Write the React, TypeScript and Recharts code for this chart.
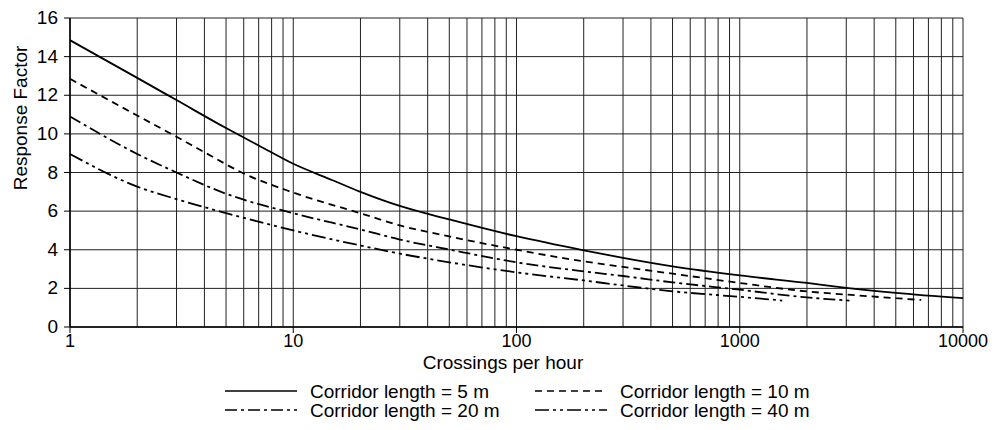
import React from 'react';
import { LineChart, Line, XAxis, YAxis, CartesianGrid, ReferenceLine } from 'recharts';

// Response factor vs crossings per hour, log x axis, 4 corridor lengths

const X_5M = [1, 2, 3, 5, 7, 10, 15, 20, 30, 50, 100, 200, 300, 500, 1000, 2000, 3000, 5000, 10000];
const Y_5M = [14.85, 12.9, 11.75, 10.3, 9.4, 8.45, 7.6, 7.0, 6.27, 5.57, 4.7, 3.97, 3.58, 3.14, 2.67, 2.28, 2.03, 1.77, 1.49];

const X_10M = [1, 2, 3, 4, 6, 10, 20, 30, 50, 100, 200, 300, 500, 1000, 2000, 3000, 5000, 6500];
const Y_10M = [12.85, 10.95, 9.85, 9.05, 7.95, 6.96, 5.89, 5.26, 4.69, 4.0, 3.4, 3.11, 2.76, 2.28, 1.84, 1.68, 1.49, 1.4];

const X_20M = [1, 2, 3, 5, 10, 20, 30, 50, 100, 200, 300, 500, 1000, 2000, 3100];
const Y_20M = [10.9, 8.96, 8.0, 6.9, 5.89, 5.05, 4.53, 4.01, 3.35, 2.88, 2.64, 2.31, 1.93, 1.53, 1.37];

const X_40M = [1, 2, 3, 5, 10, 20, 30, 50, 100, 200, 300, 500, 1000, 1550];
const Y_40M = [8.96, 7.27, 6.62, 5.9, 5.0, 4.22, 3.8, 3.35, 2.83, 2.41, 2.15, 1.85, 1.56, 1.37];

const X_TICKS = [1, 10, 100, 1000, 10000];
const Y_TICKS = [0, 2, 4, 6, 8, 10, 12, 14, 16];
const MINOR_X = [1, 10, 100, 1000].flatMap((d) => [2, 3, 4, 5, 6, 7, 8, 9].map((m) => m * d));

const SERIES_NAMES = ['Corridor length = 5 m', 'Corridor length = 10 m', 'Corridor length = 20 m', 'Corridor length = 40 m'];

const FONT = '"Liberation Sans", Arial, sans-serif';
const DASHES = ['', '7 5', '12 4 3 4', '14 4 3 4 3 4'];

const toPoints = (xs: number[], ys: number[]) => xs.map((x, i) => ({ x, y: ys[i] }));

const series = [
  toPoints(X_5M, Y_5M),
  toPoints(X_10M, Y_10M),
  toPoints(X_20M, Y_20M),
  toPoints(X_40M, Y_40M),
];

const YTick = ({ x, y, payload }: any) => (
  <text x={x - 4} y={y + 6} textAnchor="end" fontSize={19} fontFamily={FONT} fill="#000">
    {payload.value}
  </text>
);

const XTick = ({ x, y, payload }: any) => (
  <text x={x} y={y + 12} textAnchor="middle" fontSize={18} fontFamily={FONT} fill="#000">
    {payload.value}
  </text>
);

const XLabel = () => (
  <text x={495} y={361} textAnchor="middle" fontSize={19} fontFamily={FONT} fill="#000">
    Crossings per hour
  </text>
);

const YLabel = () => (
  <text x={0} y={0} transform="translate(19,110) rotate(-90)" textAnchor="middle" fontSize={19} fontFamily={FONT} fill="#000">
    Response Factor
  </text>
);

function LegendBox() {
  const rows = [
    { lx: 217, ly: 383 },
    { lx: 527, ly: 383 },
    { lx: 217, ly: 402 },
    { lx: 527, ly: 402 },
  ];
  return (
    <svg width={984} height={422} style={{ position: 'absolute', left: 0, top: 0, pointerEvents: 'none' }}>
      {rows.map((r, i) => (
        <g key={i}>
          <line x1={r.lx} x2={r.lx + 72} y1={r.ly} y2={r.ly} stroke="#000" strokeWidth={1.6} strokeDasharray={DASHES[i] || undefined} />
          <text x={r.lx + 85} y={r.ly + 7} fontSize={19} fontFamily={FONT} fill="#000">
            {SERIES_NAMES[i]}
          </text>
        </g>
      ))}
    </svg>
  );
}

export default function App() {
  return (
    <div style={{ position: 'relative', width: 984, height: 422 }}>
      <LineChart width={984} height={414} margin={{ top: 10, right: 29, left: 0, bottom: 65 }}>
        <CartesianGrid vertical horizontal stroke="#222" strokeWidth={1} />
        {MINOR_X.map((v) => (
          <ReferenceLine key={v} x={v} stroke="#222" strokeWidth={1} />
        ))}
        <XAxis
          type="number"
          dataKey="x"
          scale="log"
          domain={[1, 10000]}
          ticks={X_TICKS}
          allowDataOverflow
          height={30}
          tickSize={6}
          tick={<XTick />}
          axisLine={{ stroke: '#000', strokeWidth: 1.5 }}
          tickLine={{ stroke: '#000' }}
          label={<XLabel />}
        />
        <YAxis
          type="number"
          domain={[0, 16]}
          ticks={Y_TICKS}
          width={62}
          tickSize={6}
          tick={<YTick />}
          axisLine={{ stroke: '#000', strokeWidth: 1.5 }}
          tickLine={{ stroke: '#000' }}
          label={<YLabel />}
        />
        {series.map((data, i) => (
          <Line
            key={SERIES_NAMES[i]}
            data={data}
            dataKey="y"
            name={SERIES_NAMES[i]}
            type="monotone"
            stroke="#000"
            strokeWidth={1.8}
            strokeDasharray={DASHES[i] || undefined}
            dot={false}
            isAnimationActive={false}
          />
        ))}
      </LineChart>
      <LegendBox />
    </div>
  );
}
